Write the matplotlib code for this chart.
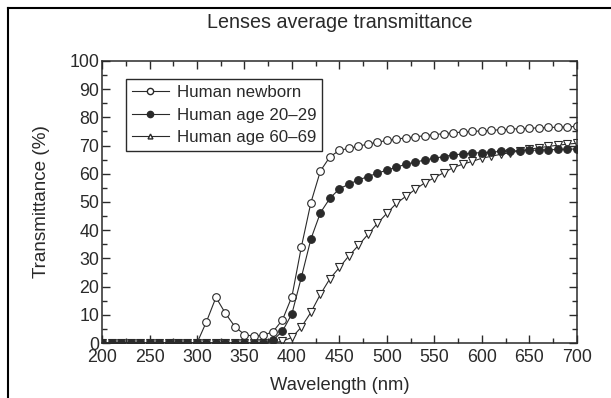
import matplotlib
matplotlib.use("Agg")
import matplotlib.pyplot as plt
from matplotlib.lines import Line2D
from matplotlib.ticker import MultipleLocator

plt.rcParams["font.family"] = ["Liberation Sans", "DejaVu Sans"]

# wavelength grid, 10 nm steps
wavelength = list(range(200, 710, 10))

newborn = [0] * 11 + [
    7.6, 16.2, 10.5, 5.8, 3.0, 2.4, 2.8, 4.0, 8.2, 16.5,
    34.2, 49.8, 61.0, 66.0, 68.3, 69.0, 69.8, 70.5, 71.2, 71.8,
    72.3, 72.7, 73.1, 73.5, 73.9, 74.2, 74.5, 74.8, 75.0, 75.2,
    75.4, 75.6, 75.8, 76.0, 76.1, 76.3, 76.4, 76.5, 76.6, 76.8,
]
age_20_29 = [0] * 18 + [
    1.0, 4.2, 10.4, 23.4, 36.9, 46.2, 51.3, 54.7, 56.3, 57.8,
    59.0, 60.2, 61.3, 62.3, 63.4, 64.1, 64.9, 65.5, 66.1, 66.7,
    67.0, 67.3, 67.5, 67.7, 67.9, 68.1, 68.2, 68.3, 68.4, 68.5,
    68.6, 68.7, 68.8,
]
age_60_69 = [0] * 19 + [
    0.7, 2.0, 5.7, 10.9, 17.3, 22.8, 26.8, 30.9, 34.6, 38.5,
    42.4, 46.0, 49.5, 52.0, 54.5, 56.8, 58.6, 60.4, 62.2, 63.4,
    64.4, 65.5, 66.2, 66.9, 67.5, 68.1, 68.7, 69.2, 69.7, 70.1,
    70.5, 70.8,
]

ink = "#2a2a2a"

fig = plt.figure(figsize=(6.11, 3.98), dpi=100)
ax = fig.add_axes([0.167, 0.138, 0.777, 0.709])

ax.plot(wavelength, age_60_69, color=ink, lw=0.8, marker="v", ms=5.5,
        mfc="white", mec=ink, mew=0.8)
ax.plot(wavelength, newborn, color=ink, lw=0.8, marker="o", ms=5.5,
        mfc="white", mec=ink, mew=0.8)
ax.plot(wavelength, age_20_29, color=ink, lw=0.8, marker="o", ms=5.5,
        mfc=ink, mec=ink, mew=0.8)

ax.set_xlim(200, 700)
ax.set_ylim(0, 100)
ax.xaxis.set_major_locator(MultipleLocator(50))
ax.xaxis.set_minor_locator(MultipleLocator(25))
ax.yaxis.set_major_locator(MultipleLocator(10))
ax.yaxis.set_minor_locator(MultipleLocator(5))
ax.tick_params(which="both", direction="in", top=True, right=True,
               color=ink, labelcolor=ink, labelsize=12.8, pad=2)
ax.tick_params(axis="x", pad=4.5)
ax.tick_params(which="major", length=6, width=1)
ax.tick_params(which="minor", length=3.5, width=1)
for sp in ax.spines.values():
    sp.set_color(ink)
    sp.set_linewidth(1.1)

ax.set_xlabel("Wavelength (nm)", fontsize=13.2, color=ink, labelpad=8)
ax.set_ylabel("Transmittance (%)", fontsize=13.6, color=ink, labelpad=14)
ax.set_title("Lenses average transmittance", fontsize=14.2, color=ink, pad=24)

handles = [
    Line2D([], [], color=ink, lw=0.8, marker="o", ms=4.5, mfc="white", mec=ink),
    Line2D([], [], color=ink, lw=0.8, marker="o", ms=4.5, mfc=ink, mec=ink),
    Line2D([], [], color=ink, lw=0.8, marker="^", ms=3.5, mfc="white", mec=ink),
]
leg = ax.legend(handles, ["Human newborn", "Human age 20\u201329", "Human age 60\u201369"],
                loc="upper left", bbox_to_anchor=(0.05, 0.936), borderaxespad=0,
                fontsize=12.2, frameon=True, fancybox=False, framealpha=1,
                edgecolor=ink, handlelength=2.2, handletextpad=0.45,
                labelspacing=0.45, borderpad=0.35, labelcolor=ink)
leg.get_frame().set_linewidth(1.0)

# outer border on the left and top edges
fig.add_artist(Line2D([0.013, 0.013], [0, 0.98], transform=fig.transFigure,
                      color="black", lw=1.5))
fig.add_artist(Line2D([0.013, 1.0], [0.98, 0.98], transform=fig.transFigure,
                      color="black", lw=1.5))

fig.savefig("out.png", dpi=100)
